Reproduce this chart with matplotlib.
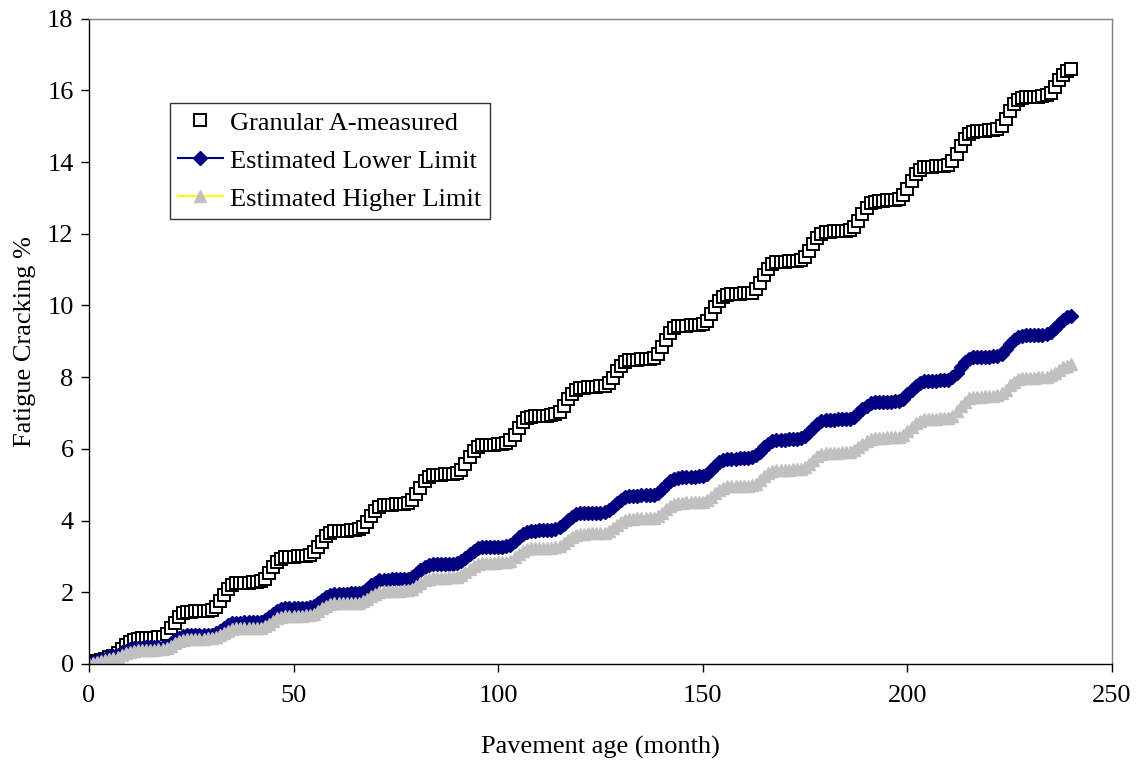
import numpy as np
import matplotlib
matplotlib.use("Agg")
import matplotlib.pyplot as plt

plt.rcParams["font.family"] = ["Liberation Serif", "DejaVu Serif"]

# pavement age in months, one point per month
months = np.arange(0, 241)

# Granular A-measured (one row per year, last value = month 240)
measured = [
    0.03, 0.06, 0.09, 0.12, 0.15, 0.18, 0.22, 0.30, 0.42, 0.54, 0.62, 0.67,
    0.70, 0.71, 0.72, 0.72, 0.73, 0.74, 0.75, 0.84, 0.99, 1.15, 1.30, 1.41,
    1.45, 1.46, 1.47, 1.47, 1.48, 1.49, 1.51, 1.59, 1.75, 1.93, 2.09, 2.20,
    2.25, 2.26, 2.26, 2.27, 2.28, 2.29, 2.30, 2.38, 2.53, 2.69, 2.83, 2.94,
    2.98, 2.99, 2.99, 3.00, 3.01, 3.02, 3.03, 3.11, 3.25, 3.41, 3.56, 3.66,
    3.70, 3.71, 3.71, 3.72, 3.73, 3.74, 3.75, 3.83, 3.97, 4.13, 4.28, 4.38,
    4.42, 4.43, 4.44, 4.45, 4.45, 4.46, 4.48, 4.57, 4.74, 4.92, 5.09, 5.21,
    5.26, 5.27, 5.28, 5.29, 5.29, 5.30, 5.32, 5.41, 5.58, 5.76, 5.93, 6.05,
    6.10, 6.11, 6.12, 6.12, 6.13, 6.14, 6.16, 6.24, 6.40, 6.58, 6.74, 6.85,
    6.90, 6.91, 6.92, 6.92, 6.93, 6.94, 6.96, 7.04, 7.20, 7.38, 7.54, 7.65,
    7.70, 7.71, 7.72, 7.72, 7.73, 7.74, 7.75, 7.84, 7.99, 8.16, 8.32, 8.42,
    8.47, 8.48, 8.49, 8.50, 8.51, 8.52, 8.54, 8.64, 8.83, 9.04, 9.23, 9.36,
    9.42, 9.43, 9.44, 9.45, 9.46, 9.46, 9.48, 9.58, 9.75, 9.95, 10.12, 10.25,
    10.30, 10.31, 10.32, 10.33, 10.34, 10.35, 10.36, 10.46, 10.64, 10.84, 11.02, 11.15,
    11.20, 11.21, 11.22, 11.23, 11.23, 11.24, 11.26, 11.35, 11.52, 11.71, 11.88, 12.00,
    12.05, 12.06, 12.07, 12.08, 12.08, 12.09, 12.11, 12.20, 12.37, 12.56, 12.73, 12.85,
    12.90, 12.91, 12.92, 12.93, 12.94, 12.95, 12.97, 13.07, 13.26, 13.47, 13.66, 13.79,
    13.85, 13.86, 13.87, 13.88, 13.89, 13.90, 13.92, 14.03, 14.23, 14.45, 14.65, 14.79,
    14.85, 14.86, 14.87, 14.88, 14.89, 14.90, 14.92, 15.02, 15.21, 15.42, 15.61, 15.74,
    15.80, 15.81, 15.82, 15.82, 15.83, 15.84, 15.86, 15.94, 16.10, 16.28, 16.44, 16.55,
    16.60,
]

# Estimated Lower Limit
lower = [
    0.00, 0.05, 0.09, 0.12, 0.15, 0.18, 0.21, 0.26, 0.32, 0.37, 0.41, 0.44,
    0.45, 0.45, 0.46, 0.46, 0.46, 0.47, 0.47, 0.51, 0.58, 0.66, 0.73, 0.78,
    0.80, 0.80, 0.81, 0.81, 0.81, 0.82, 0.82, 0.86, 0.93, 1.01, 1.08, 1.13,
    1.15, 1.15, 1.16, 1.16, 1.17, 1.17, 1.18, 1.22, 1.30, 1.39, 1.47, 1.53,
    1.55, 1.55, 1.56, 1.56, 1.57, 1.57, 1.58, 1.62, 1.70, 1.79, 1.87, 1.93,
    1.95, 1.95, 1.96, 1.96, 1.97, 1.97, 1.98, 2.02, 2.10, 2.19, 2.27, 2.33,
    2.35, 2.35, 2.36, 2.36, 2.37, 2.37, 2.38, 2.43, 2.51, 2.61, 2.69, 2.75,
    2.78, 2.78, 2.79, 2.79, 2.80, 2.80, 2.81, 2.86, 2.96, 3.06, 3.16, 3.22,
    3.25, 3.25, 3.26, 3.26, 3.27, 3.27, 3.28, 3.33, 3.43, 3.53, 3.63, 3.69,
    3.72, 3.72, 3.73, 3.73, 3.74, 3.74, 3.75, 3.81, 3.90, 4.01, 4.10, 4.17,
    4.20, 4.20, 4.21, 4.21, 4.22, 4.22, 4.23, 4.29, 4.38, 4.49, 4.58, 4.65,
    4.68, 4.69, 4.69, 4.70, 4.70, 4.71, 4.72, 4.77, 4.88, 4.99, 5.10, 5.17,
    5.20, 5.21, 5.21, 5.22, 5.22, 5.23, 5.24, 5.29, 5.40, 5.51, 5.62, 5.69,
    5.72, 5.73, 5.73, 5.74, 5.74, 5.75, 5.76, 5.82, 5.92, 6.04, 6.14, 6.22,
    6.25, 6.26, 6.26, 6.27, 6.27, 6.28, 6.29, 6.35, 6.46, 6.58, 6.69, 6.77,
    6.80, 6.81, 6.81, 6.82, 6.82, 6.83, 6.84, 6.89, 6.99, 7.10, 7.20, 7.27,
    7.30, 7.31, 7.31, 7.32, 7.32, 7.33, 7.34, 7.40, 7.52, 7.65, 7.76, 7.85,
    7.88, 7.89, 7.89, 7.90, 7.91, 7.91, 7.93, 8.00, 8.13, 8.28, 8.42, 8.51,
    8.55, 8.56, 8.56, 8.57, 8.57, 8.58, 8.59, 8.66, 8.78, 8.92, 9.04, 9.12,
    9.16, 9.17, 9.17, 9.18, 9.18, 9.19, 9.20, 9.26, 9.37, 9.48, 9.59, 9.67,
    9.70,
]

# Estimated Higher Limit
higher = [
    0.00, 0.03, 0.06, 0.09, 0.11, 0.13, 0.16, 0.20, 0.25, 0.30, 0.34, 0.37,
    0.39, 0.39, 0.40, 0.40, 0.40, 0.41, 0.41, 0.44, 0.50, 0.57, 0.63, 0.67,
    0.69, 0.69, 0.70, 0.70, 0.70, 0.71, 0.71, 0.74, 0.80, 0.87, 0.93, 0.97,
    0.99, 0.99, 1.00, 1.00, 1.00, 1.01, 1.01, 1.05, 1.12, 1.20, 1.27, 1.32,
    1.34, 1.34, 1.35, 1.35, 1.35, 1.36, 1.36, 1.40, 1.47, 1.55, 1.62, 1.67,
    1.69, 1.69, 1.70, 1.70, 1.70, 1.71, 1.71, 1.75, 1.82, 1.89, 1.96, 2.01,
    2.03, 2.03, 2.04, 2.04, 2.04, 2.05, 2.06, 2.10, 2.17, 2.25, 2.33, 2.38,
    2.40, 2.40, 2.41, 2.41, 2.42, 2.42, 2.43, 2.47, 2.56, 2.65, 2.73, 2.79,
    2.81, 2.81, 2.82, 2.82, 2.83, 2.83, 2.84, 2.88, 2.97, 3.06, 3.14, 3.20,
    3.22, 3.22, 3.23, 3.23, 3.24, 3.24, 3.25, 3.29, 3.38, 3.47, 3.55, 3.61,
    3.63, 3.63, 3.64, 3.64, 3.65, 3.65, 3.66, 3.71, 3.79, 3.88, 3.97, 4.02,
    4.05, 4.05, 4.06, 4.06, 4.07, 4.07, 4.08, 4.13, 4.22, 4.32, 4.41, 4.47,
    4.50, 4.50, 4.51, 4.51, 4.52, 4.52, 4.53, 4.58, 4.67, 4.77, 4.86, 4.92,
    4.95, 4.95, 4.96, 4.96, 4.97, 4.97, 4.98, 5.03, 5.12, 5.23, 5.32, 5.38,
    5.41, 5.41, 5.42, 5.42, 5.43, 5.43, 5.44, 5.49, 5.59, 5.69, 5.79, 5.85,
    5.88, 5.88, 5.89, 5.89, 5.90, 5.90, 5.91, 5.96, 6.04, 6.13, 6.22, 6.27,
    6.30, 6.31, 6.31, 6.32, 6.32, 6.33, 6.34, 6.39, 6.50, 6.61, 6.72, 6.79,
    6.82, 6.83, 6.83, 6.84, 6.85, 6.85, 6.86, 6.93, 7.06, 7.20, 7.32, 7.41,
    7.45, 7.46, 7.46, 7.47, 7.47, 7.48, 7.49, 7.55, 7.65, 7.77, 7.87, 7.95,
    7.98, 7.98, 7.99, 7.99, 8.00, 8.00, 8.01, 8.05, 8.12, 8.21, 8.28, 8.32,
    8.36,
]

x_ticks = [0, 50, 100, 150, 200, 250]
y_ticks = [0, 2, 4, 6, 8, 10, 12, 14, 16, 18]

fig = plt.figure(figsize=(11.4, 7.64), dpi=100)
ax = fig.add_axes([0.078, 0.131, 0.8975, 0.8445])

ax.plot(months, measured, linestyle="none", marker="s", markersize=8.5,
        markerfacecolor="white", markeredgecolor="black", markeredgewidth=1.4,
        label="Granular A-measured")
ax.plot(months, lower, color="#000080", lw=1.5, marker="D", markersize=7.5,
        markerfacecolor="#000080", markeredgecolor="#000080",
        label="Estimated Lower Limit")
ax.plot(months, higher, color="#ffff00", lw=1.5, marker="^", markersize=9,
        markerfacecolor="#c0c0c0", markeredgecolor="#c0c0c0",
        label="Estimated Higher Limit")

ax.set_xlim(0, 250)
ax.set_ylim(0, 18)
ax.set_xticks(x_ticks)
ax.set_yticks(y_ticks)
ax.tick_params(direction="out", length=6, width=1, labelsize=19)
ax.tick_params(axis="x", pad=9)
ax.tick_params(axis="y", pad=5)
for sp in ax.spines.values():
    sp.set_linewidth(1)
    sp.set_color("black")
ax.spines["right"].set_color("#808080")
ax.spines["top"].set_color("#808080")

ax.set_xlabel("Pavement age (month)", fontsize=19, labelpad=21)
ax.set_ylabel("Fatigue Cracking %", fontsize=19, labelpad=8)

leg = ax.legend(loc="upper left", bbox_to_anchor=(0.079, 0.869),
                fontsize=19, frameon=True, fancybox=False, edgecolor="black",
                borderpad=0.3, labelspacing=0.55, handlelength=1.7,
                handletextpad=0.3, borderaxespad=0)
leg.get_frame().set_linewidth(1)

fig.savefig("out.png", dpi=100)
